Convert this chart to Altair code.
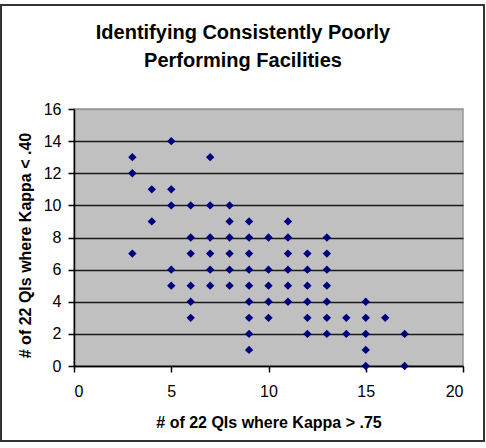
import altair as alt
import pandas as pd

# One point per facility: how many of the 22 quality indicators reached
# kappa > .75 (x) and how many fell below kappa < .40 (y).
kappa_above_75 = [
    3, 3, 3,
    4, 4,
    5, 5, 5, 5, 5,
    6, 6, 6, 6, 6, 6,
    7, 7, 7, 7, 7, 7,
    8, 8, 8, 8, 8, 8,
    9, 9, 9, 9, 9, 9, 9, 9, 9,
    10, 10, 10, 10, 10,
    11, 11, 11, 11, 11, 11,
    12, 12, 12, 12, 12, 12,
    13, 13, 13, 13, 13, 13, 13,
    14, 14,
    15, 15, 15, 15, 15,
    16,
    17, 17,
]
kappa_below_40 = [
    13, 12, 7,
    11, 9,
    14, 11, 10, 6, 5,
    10, 8, 7, 5, 4, 3,
    13, 10, 8, 7, 6, 5,
    10, 9, 8, 7, 6, 5,
    9, 8, 7, 6, 5, 4, 3, 2, 1,
    8, 6, 5, 4, 3,
    9, 8, 7, 6, 5, 4,
    7, 6, 5, 4, 3, 2,
    8, 7, 6, 5, 4, 3, 2,
    3, 2,
    4, 3, 2, 1, 0,
    3,
    2, 0,
]

x_ticks = [0, 5, 10, 15, 20]
y_ticks = [0, 2, 4, 6, 8, 10, 12, 14, 16]

title_lines = ["Identifying Consistently Poorly", "Performing Facilities"]
x_title = "# of 22 QIs where Kappa > .75"
y_title = "# of 22 QIs where Kappa < .40"

FONT = "Liberation Sans"

df = pd.DataFrame({"high": kappa_above_75, "low": kappa_below_40})

points = alt.Chart(df).mark_point(
    shape="diamond", filled=True, color="#000080", size=70, opacity=1
).encode(
    x=alt.X(
        "high:Q",
        scale=alt.Scale(domain=[0, 20], nice=False, zero=True),
        axis=alt.Axis(
            title=x_title,
            values=x_ticks,
            grid=False,
            domainColor="black",
            domainWidth=1.5,
            tickColor="black",
            tickSize=6,
            tickWidth=1.5,
            labelFont=FONT,
            labelFontSize=16,
            labelColor="black",
            labelPadding=11,
            titleFont=FONT,
            titleFontSize=16,
            titleFontWeight="bold",
            titleColor="black",
            titleY=61,
            titleBaseline="alphabetic",
        ),
    ),
    y=alt.Y(
        "low:Q",
        scale=alt.Scale(domain=[0, 16], nice=False),
        axis=alt.Axis(
            title=y_title,
            values=y_ticks,
            grid=True,
            gridColor={
                "condition": {"test": "datum.value === 16", "value": "#999999"},
                "value": "#1a1a1a",
            },
            gridWidth=1.5,
            domainColor="black",
            domainWidth=1.5,
            tickColor="black",
            tickSize=6,
            tickWidth=1.5,
            labelFont=FONT,
            labelFontSize=16,
            labelColor="black",
            labelPadding=7,
            titleFont=FONT,
            titleFontSize=16,
            titleFontWeight="bold",
            titleColor="black",
            titleX=-49,
            titleY=136,
            titleAngle=-90,
            titleAlign="center",
            titleBaseline="middle",
        ),
    ),
)

one_row = pd.DataFrame({"k": [0]})

# Frame around the whole chart
frame = alt.Chart(one_row).mark_rect(
    fill=None, stroke="#333333", strokeWidth=2
).encode(
    x=alt.value(-73),
    x2=alt.value(410),
    y=alt.value(-104),
    y2=alt.value(332),
)

# Two-line chart heading
title_style = dict(font=FONT, fontSize=20, fontWeight="bold", color="black",
                   align="center", baseline="alphabetic")
heading_1 = alt.Chart(one_row).mark_text(**title_style).encode(
    x=alt.value(169), y=alt.value(-70), text=alt.value(title_lines[0])
)
heading_2 = alt.Chart(one_row).mark_text(**title_style).encode(
    x=alt.value(169), y=alt.value(-42), text=alt.value(title_lines[1])
)

chart = alt.layer(points, frame, heading_1, heading_2).properties(
    width=389,
    height=257,
    autosize=alt.AutoSizeParams(type="none"),
    padding={"left": 74, "top": 109, "right": 23, "bottom": 82},
    background="white",
).configure_view(
    fill="#c0c0c0",
    stroke="#999999",
    strokeWidth=1.5,
)

chart.save("out.html", embed_options={"renderer": "svg", "actions": False})
